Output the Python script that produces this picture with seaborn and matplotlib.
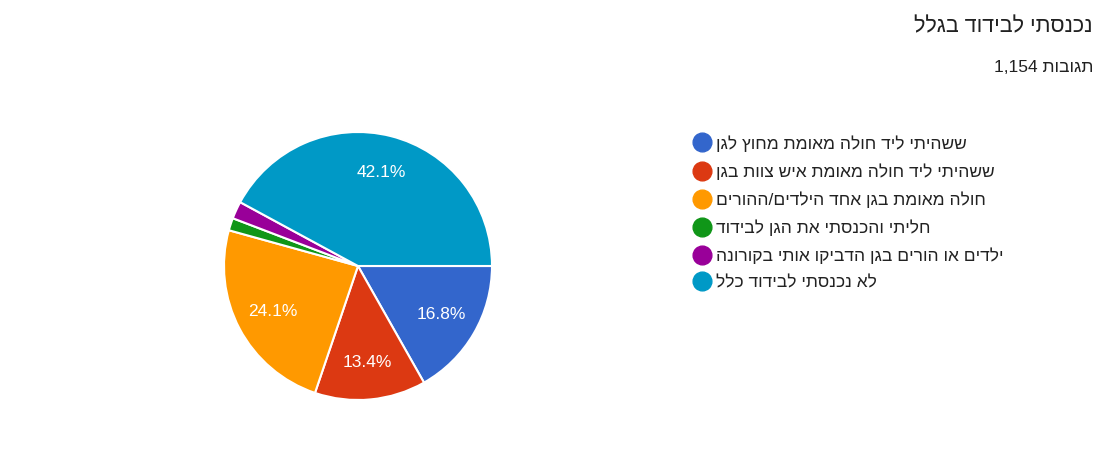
import matplotlib
matplotlib.use('Agg')
import matplotlib.pyplot as plt
from matplotlib.lines import Line2D
import seaborn as sns

# Data (percent of 1,154 responses)
categories = [
    'ששהיתי ליד חולה מאומת מחוץ לגן',
    'ששהיתי ליד חולה מאומת איש צוות בגן',
    'חולה מאומת בגן אחד הילדים/ההורים',
    'חליתי והכנסתי את הגן לבידוד',
    'ילדים או הורים בגן הדביקו אותי בקורונה',
    'לא נכנסתי לבידוד כלל',
]
values = [16.8, 13.4, 24.1, 1.5, 2.1, 42.1]
colors = ['#3366cc', '#dc3912', '#ff9900', '#109618', '#990099', '#0099c6']
title = 'נכנסתי לבידוד בגלל'
responses = '1,154'
responses_word = 'תגובות'


def rtl(s):
    # matplotlib has no bidi support; plain Hebrew just needs reversing
    return s[::-1]


sns.set_theme(style="white")
plt.rcParams['font.family'] = ['Liberation Sans', 'DejaVu Sans']

W, H = 1115, 449
fig = plt.figure(figsize=(W / 100, H / 100), dpi=100)

cx, cy, r = 358, 266, 134
ax = fig.add_axes([(cx - r) / W, (H - cy - r) / H, 2 * r / W, 2 * r / H])

palette = sns.color_palette(colors)
wedges, _, autotexts = ax.pie(
    values, colors=palette, startangle=0, counterclock=False,
    autopct=lambda p: f'{p:.1f}%' if p > 5 else '',
    pctdistance=0.72, radius=1,
    wedgeprops=dict(edgecolor='white', linewidth=1.5),
    textprops=dict(color='white', fontsize=12.5),
)
ax.set_xlim(-1, 1)
ax.set_ylim(-1, 1)
ax.axis('off')

# Title and response count, right aligned
fig.text(1093 / W, 1 - 27 / H, rtl(title), ha='right', va='center',
         fontsize=15.5, color='#212121')
fig.text(1093 / W, 1 - 68 / H, responses + ' ' + rtl(responses_word),
         ha='right', va='center', fontsize=12.5, color='#212121')

handles = [Line2D([0], [0], marker='o', linestyle='', markersize=13.5,
                  markerfacecolor=c, markeredgecolor=c) for c in palette]
fig.legend(handles, [rtl(c) for c in categories], loc='upper left',
           bbox_to_anchor=(686 / W, 1 - 128 / H), frameon=False,
           fontsize=12.5, labelspacing=0.66, handletextpad=0.35,
           handlelength=1.0, borderaxespad=0, labelcolor='#222222')

fig.savefig('out.png', dpi=100, facecolor='white')
